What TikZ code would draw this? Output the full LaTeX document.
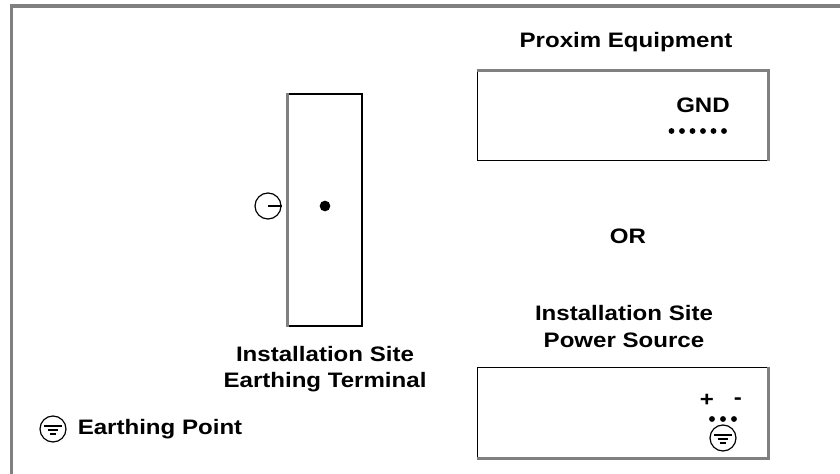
\documentclass[tikz,border=0pt]{standalone}
\usepackage{fontspec}
\setmainfont[FakeStretch=1.15]{Liberation Sans}
\usetikzlibrary{positioning}
\definecolor{edgegray}{HTML}{808080}
\begin{document}
\begin{tikzpicture}[x=0.75pt,y=-0.75pt,
	main_box/.style={draw=black,fill=white,line width=0.9pt,inner sep=0pt},
	grey_edge/.style={draw=edgegray,line width=2.2pt},
	main_text/.style={font=\bfseries\fontsize{15.7pt}{20pt}\selectfont,align=center,inner sep=0pt},
	earth_ring/.style={circle,draw=black,line width=0.9pt,minimum size=19.5pt,inner sep=0pt},
	main_dot/.style={circle,fill=black,minimum size=4.4pt,inner sep=0pt}]
	\useasboundingbox (0,0) rectangle (840,474);

	% frame has only two sides
	\coordinate (frame_bl) at (11.5,474);
	\coordinate (frame_tl) at (11.5,6);
	\coordinate (frame_tr) at (840,6);
	\draw[grey_edge, line width=2.6pt] (frame_bl) -- (frame_tl) -- (frame_tr);

	\node[main_box, minimum width=55.5pt, minimum height=174pt] (terminal) at (325,210) {};
	\node[main_box, minimum width=217.5pt, minimum height=67pt] (equipment) at (622.5,115.5) {};
	\node[main_box, minimum width=217.5pt, minimum height=67.5pt] (source) at (622.5,412.5) {};

	\draw[grey_edge] (terminal.north west) -- (terminal.south west);
	\draw[grey_edge] (equipment.north west) -- (equipment.north east) -- (equipment.south east);
	\draw[grey_edge] (source.north east) -- (source.south east) -- (source.south west);

	\node[main_text] (proxim) at (626,42) {Proxim Equipment};
	\node[main_text] (gnd) at (703,105) {GND};
	\node[main_text] (or) at (628,236) {OR};
	\node[main_text] (site) at (624,326.5) {Installation Site\\Power Source};
	\node[main_text] (earthing) at (325,369) {Installation Site\\Earthing Terminal};
	\node[main_text] (point) at (160,429) {Earthing Point};
	\node[main_text] (plus) at (707,400) {+};
	\node[main_text] (minus) at (738,401) {-};

	\node[earth_ring] (ring1) at (268,206) {};
	\draw[line width=1.3pt] (ring1.center) -- (ring1.east);
	\node[main_dot, minimum size=8pt] (centre) at (325,206) {};

	\node[earth_ring] (ring2) at (53,429) {};
	\node[earth_ring] (ring3) at (723,438) {};
	\foreach \ringname in {ring2,ring3} {
		\draw[line width=1.4pt] ([xshift=-6.5pt,yshift=2pt]\ringname.center) -- ([xshift=6.5pt,yshift=2pt]\ringname.center);
		\draw[line width=1.4pt] ([xshift=-4pt,yshift=-1pt]\ringname.center) -- ([xshift=4pt,yshift=-1pt]\ringname.center);
		\draw[line width=1.4pt] ([xshift=-2pt,yshift=-3.5pt]\ringname.center) -- ([xshift=2pt,yshift=-3.5pt]\ringname.center);
	}

	\foreach \i in {0,...,5}
		\node[main_dot] (pin\i) at (671.5+\i*10.5,131) {};
	\foreach \i in {0,...,2}
		\node[main_dot] (lug\i) at (712+\i*11,419) {};
\end{tikzpicture}
\end{document}
